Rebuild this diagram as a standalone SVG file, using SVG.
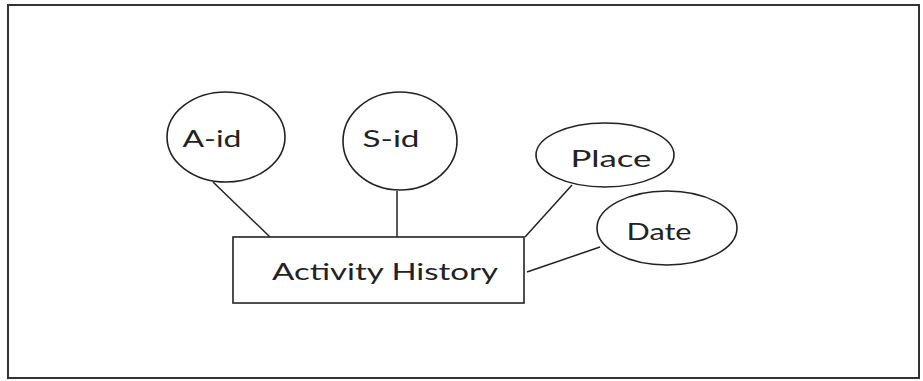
<svg xmlns="http://www.w3.org/2000/svg" width="923" height="381" viewBox="0 0 923 381">
<style>
.shape{fill:#fff;stroke:#222;stroke-width:1.6}
.conn line{stroke:#222;stroke-width:1.5}
text{font-family:Lato,"Liberation Sans",sans-serif;font-size:24px;fill:#222;text-anchor:middle;dominant-baseline:central}
</style>
<rect x="0" y="0" width="923" height="381" fill="#fff"/>
<rect x="8" y="5" width="911" height="373" fill="none" stroke="#333" stroke-width="2"/>
<g id="connectors" class="conn">
<line x1="213" y1="182" x2="270" y2="237"/>
<line x1="397" y1="191" x2="397" y2="237"/>
<line x1="572" y1="185" x2="525" y2="237"/>
<line x1="600" y1="247" x2="527" y2="272"/>
</g>
<g id="activity-history">
<rect class="shape" x="233" y="237" width="291" height="66"/>
<text x="385" y="270" textLength="226" lengthAdjust="spacingAndGlyphs">Activity History</text>
</g>
<g id="a-id">
<ellipse class="shape" cx="226" cy="137" rx="59" ry="45"/>
<text x="212" y="137" textLength="59" lengthAdjust="spacingAndGlyphs">A-id</text>
</g>
<g id="s-id">
<ellipse class="shape" cx="400" cy="141" rx="57" ry="49"/>
<text x="391" y="137" textLength="57" lengthAdjust="spacingAndGlyphs">S-id</text>
</g>
<g id="place">
<ellipse class="shape" cx="605" cy="155" rx="69" ry="32"/>
<text x="611" y="157" textLength="81" lengthAdjust="spacingAndGlyphs">Place</text>
</g>
<g id="date">
<ellipse class="shape" cx="667" cy="228" rx="70" ry="37"/>
<text x="659" y="230" textLength="65" lengthAdjust="spacingAndGlyphs">Date</text>
</g>
</svg>
